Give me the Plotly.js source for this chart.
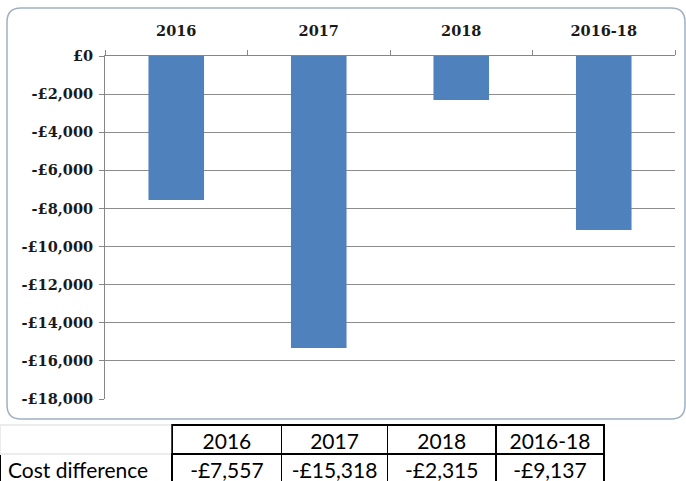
<!DOCTYPE html>
<html>
<head>
<meta charset="utf-8">
<script src="https://cdn.plot.ly/plotly-3.0.1.min.js"></script>
<style>
html,body{margin:0;padding:0;background:#fff;}
#chart{width:686px;height:481px;}
</style>
</head>
<body>
<div id="chart"></div>
<script>
// Data
const categories = ['2016', '2017', '2018', '2016-18'];
const costDifference = [-7557, -15318, -2315, -9137];
const costLabels = ['-£7,557', '-£15,318', '-£2,315', '-£9,137'];
const rowLabel = 'Cost difference';
const yTickVals = [0, -2000, -4000, -6000, -8000, -10000, -12000, -14000, -16000, -18000];
const yTickText = ['£0', '-£2,000', '-£4,000', '-£6,000', '-£8,000', '-£10,000', '-£12,000', '-£14,000', '-£16,000', '-£18,000'];

const W = 686, H = 481;
const px = v => v / W;
const py = v => 1 - v / H;

const axisFont = {family: 'DejaVu Serif, serif', size: 14.5, color: '#1a1a1a', weight: 'bold'};

const barTrace = {
  type: 'bar',
  x: categories,
  y: costDifference,
  marker: {color: '#4F81BD'},
  width: 0.39,
  hoverinfo: 'skip'
};

// table: header row + one data row
const headerVals = [''].concat(categories);
const cellVals = [[rowLabel]].concat(costLabels.map(v => [v]));
const tableTrace = {
  type: 'table',
  domain: {x: [0, px(604)], y: [0, py(425)]},
  columnwidth: [172, 109, 106, 108, 108],
  header: {
    values: headerVals,
    align: 'center',
    height: 29,
    line: {color: ['#ececec', '#000', '#000', '#000', '#000'], width: 1.6},
    fill: {color: '#fff'},
    font: {family: 'Lato, sans-serif', size: 21, color: '#000'}
  },
  cells: {
    values: cellVals,
    align: ['left', 'center', 'center', 'center', 'center'],
    height: 29,
    line: {color: '#000', width: 1.6},
    fill: {color: '#fff'},
    font: {family: 'Lato, sans-serif', size: 21, color: '#000'}
  }
};

// rounded chart border
const x0 = 7, x1 = 685, y0 = 8, y1 = 419, r = 14;
const boxPath = `M ${px(x0 + r)} ${py(y0)} L ${px(x1 - r)} ${py(y0)} Q ${px(x1)} ${py(y0)} ${px(x1)} ${py(y0 + r)} ` +
  `L ${px(x1)} ${py(y1 - r)} Q ${px(x1)} ${py(y1)} ${px(x1 - r)} ${py(y1)} ` +
  `L ${px(x0 + r)} ${py(y1)} Q ${px(x0)} ${py(y1)} ${px(x0)} ${py(y1 - r)} ` +
  `L ${px(x0)} ${py(y0 + r)} Q ${px(x0)} ${py(y0)} ${px(x0 + r)} ${py(y0)} Z`;

const layout = {
  width: W, height: H,
  margin: {l: 0, r: 0, t: 0, b: 0},
  paper_bgcolor: '#fff',
  plot_bgcolor: '#fff',
  showlegend: false,
  font: {family: 'DejaVu Serif, serif'},
  xaxis: {
    domain: [px(105), px(675)],
    side: 'top',
    type: 'category',
    tickson: 'boundaries',
    ticks: 'outside',
    ticklen: 5,
    tickcolor: '#868686',
    showline: true,
    linecolor: '#868686',
    linewidth: 1,
    showgrid: false,
    tickfont: axisFont,
    ticklabelstandoff: 13,
    fixedrange: true
  },
  yaxis: {
    domain: [py(399), py(56)],
    range: [-18000, 0],
    tickvals: yTickVals,
    ticktext: yTickText,
    ticks: 'outside',
    ticklen: 5,
    tickcolor: '#868686',
    showline: true,
    linecolor: '#868686',
    showgrid: true,
    gridcolor: '#8c8c8c',
    gridwidth: 1,
    zeroline: false,
    tickfont: axisFont,
    ticklabelstandoff: 3,
    fixedrange: true
  },
  shapes: [{
    type: 'path', xref: 'paper', yref: 'paper', path: boxPath,
    line: {color: '#9fb0c2', width: 1.5}, fillcolor: 'rgba(0,0,0,0)', layer: 'below'
  }]
};

Plotly.newPlot('chart', [barTrace, tableTrace], layout, {staticPlot: true, displayModeBar: false});
</script>
</body>
</html>
